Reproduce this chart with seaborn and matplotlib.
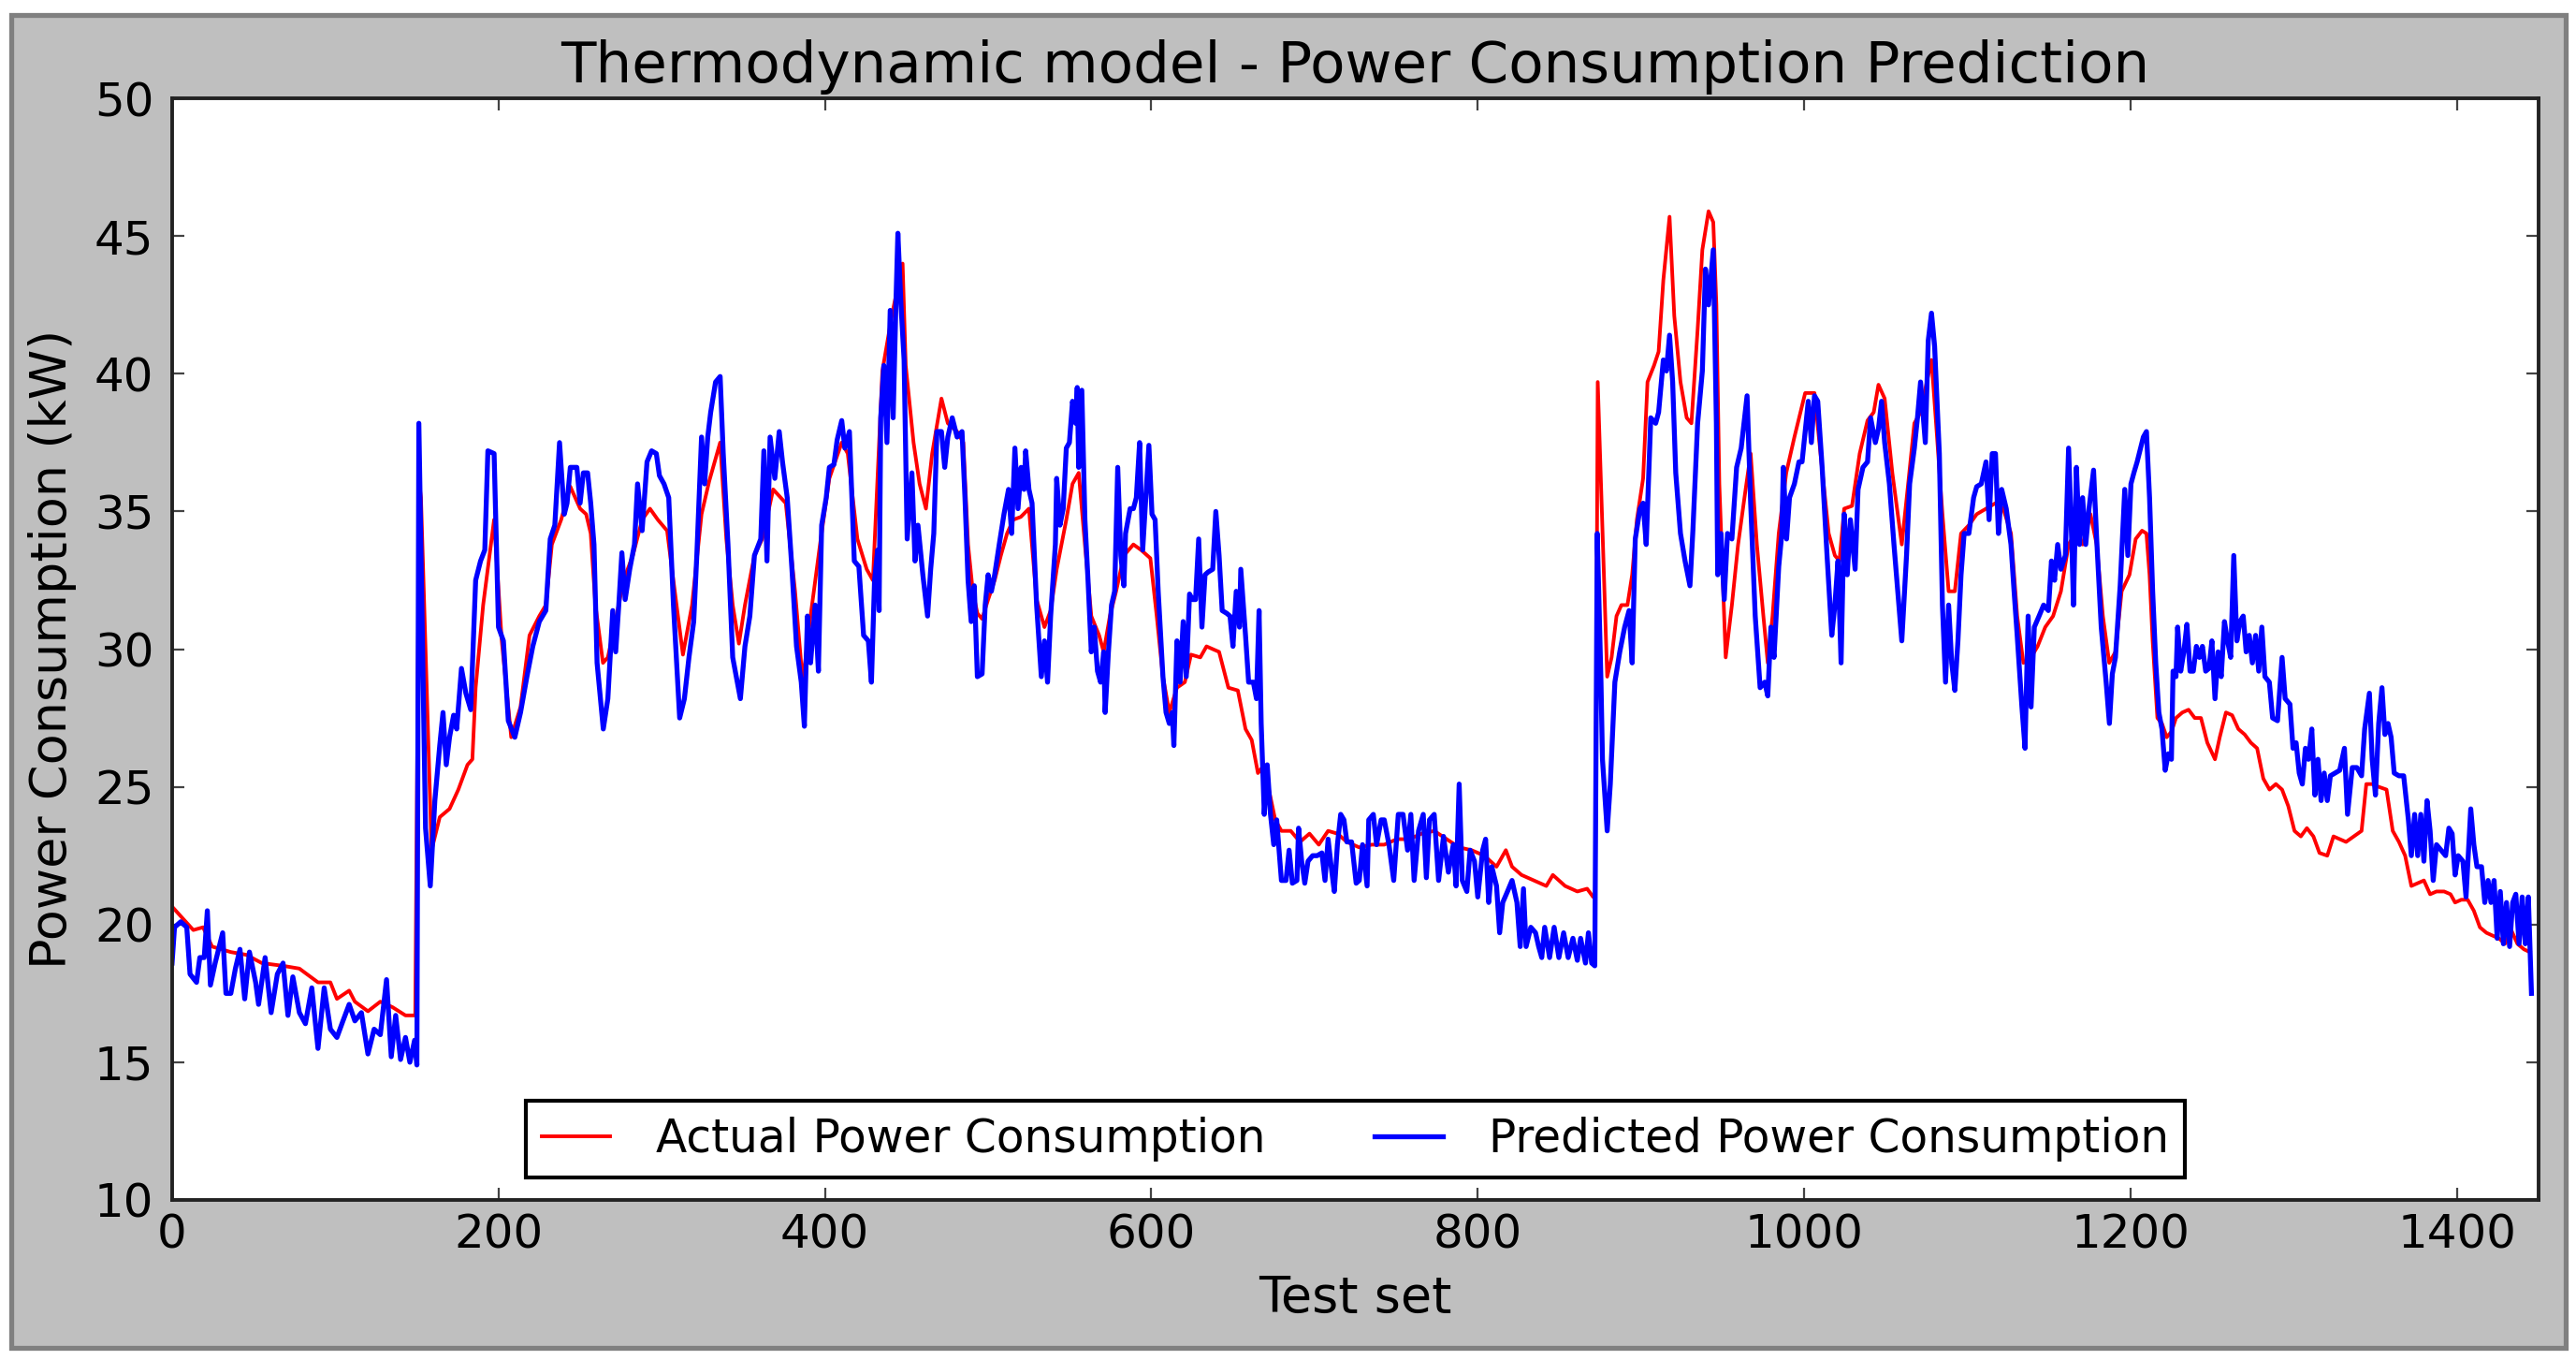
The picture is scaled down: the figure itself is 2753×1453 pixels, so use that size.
import matplotlib
matplotlib.use("Agg")
import matplotlib.pyplot as plt
from matplotlib.patches import Rectangle
import seaborn as sns
import pandas as pd

# ---------------- data ----------------
actual_x = [0, 13, 19, 24.5, 36, 45.5, 55, 68, 78, 89.4, 97, 101, 108.5, 112, 120, 127.6, 135, 143, 149,
            151.5, 152.5, 159, 164, 170, 175.4, 181, 184, 186, 190.6, 197.3, 202, 207.8, 213.5, 219, 225, 229,
            232.7, 238.4, 244, 250, 253.7, 256.5, 259.4, 264, 267, 271, 276.6, 282.3, 288, 292.8, 297.6,
            303.3, 308, 313, 318.6, 324.4, 329.1, 335.8, 339.6, 343.5, 347.3, 351, 356.8, 361.6, 368.3, 376,
            381.7, 386.4, 391.2, 397, 402.7, 410.3, 414, 419.9, 425.6, 429.4, 435.2, 441, 444.7, 447.6, 449.5,
            454.3, 458, 461.9, 465.7, 471.4, 475.3, 481, 484.8, 487.7, 490.6, 493.4, 496.3, 500, 504, 507.8,
            511.6, 515.4, 520, 525, 529.7, 534.5, 538.3, 542, 547.9, 551.7, 555.5, 559.3, 563.2, 568, 570.8,
            574.6, 578.4, 583.2, 589, 593.7, 599.4, 603.3, 607.1, 611, 615.7, 620.5, 624.3, 630, 633.8, 641.5,
            647.2, 653, 657.7, 661.5, 665.3, 669.2, 672, 675.9, 679.7, 685.4, 691.1, 696.9, 702.6, 708.3, 714,
            719.8, 727.4, 735, 742.7, 750.4, 758, 765.6, 773.3, 781, 788.6, 796.2, 804, 811.5, 817.2, 821,
            826.8, 834.4, 842, 846, 853.5, 861, 867, 870.7, 872, 873.5, 879.3, 882, 885, 888, 891.7, 894.6,
            897.5, 901.3, 904, 908, 910.8, 913.7, 917.5, 920.4, 924.2, 928, 930.9, 934.7, 937.6, 941.4, 944.3,
            946.2, 948, 951.9, 955.7, 959.5, 963.4, 967.2, 971, 975, 977.7, 980.6, 984.4, 989, 994, 997.7,
            1000.6, 1006.3, 1010, 1015, 1018.8, 1021.6, 1024.5, 1029.3, 1034, 1038.8, 1042.6, 1045.5, 1049.3,
            1054, 1059.8, 1063.7, 1067.5, 1071.3, 1075.1, 1078, 1080.8, 1084.7, 1088.5, 1092.3, 1096.1, 1100.9,
            1105.7, 1111.4, 1117.2, 1122, 1126.7, 1130.5, 1134.3, 1139, 1143, 1147.7, 1152.5, 1157.3, 1162,
            1166, 1170.6, 1175.4, 1179.2, 1183, 1186.9, 1190.7, 1194.5, 1199.3, 1203.1, 1207, 1209.7, 1211.6,
            1213.5, 1216.4, 1219.2, 1222.1, 1225, 1227.8, 1231.7, 1235.5, 1239.3, 1243.1, 1247, 1251.7, 1254.6,
            1258.4, 1262.2, 1266, 1269.9, 1273.7, 1277.5, 1281.3, 1285.1, 1289, 1292.8, 1296.6, 1300.4, 1304.3,
            1308, 1312, 1315.7, 1320.5, 1324.3, 1328.1, 1332, 1336.7, 1341.5, 1344.4, 1348, 1352, 1356.8,
            1360.6, 1364.4, 1368.2, 1372, 1375.9, 1379.7, 1383.5, 1387.4, 1392.1, 1396, 1398.8, 1402.6, 1406.5,
            1410.3, 1414, 1418, 1421.7, 1425.6, 1429.4, 1433.2, 1437, 1441, 1444.6]
actual_y = [20.65, 19.8, 19.9, 19.2, 19.0, 18.9, 18.6, 18.5, 18.4, 17.9, 17.9, 17.3, 17.6, 17.2, 16.85, 17.2,
            17.0, 16.7, 16.7, 36.0, 35.5, 22.7, 23.9, 24.2, 24.9, 25.8, 26.0, 28.6, 31.6, 34.7, 30.3, 26.8,
            27.9, 30.5, 31.2, 31.6, 33.8, 34.7, 35.9, 35.1, 34.9, 34.2, 31.6, 29.5, 29.7, 30.8, 32.5, 33.4,
            34.7, 35.1, 34.7, 34.3, 32.1, 29.8, 31.6, 34.9, 36.1, 37.5, 34.0, 31.6, 30.2, 31.6, 33.4, 34.0,
            35.8, 35.3, 32.1, 28.8, 31.2, 33.8, 36.2, 37.5, 37.1, 34.0, 32.9, 32.5, 40.1, 42.1, 43.2, 44.0,
            40.3, 37.5, 36.0, 35.1, 37.1, 39.1, 38.2, 37.9, 37.5, 33.8, 32.1, 31.3, 31.1, 31.8, 32.5, 33.4,
            34.2, 34.7, 34.8, 35.1, 31.8, 30.8, 31.4, 32.9, 34.7, 36.0, 36.4, 33.8, 31.2, 30.5, 29.9, 31.2,
            32.1, 33.4, 33.8, 33.6, 33.3, 31.2, 29.0, 27.7, 28.6, 28.8, 29.8, 29.7, 30.1, 29.9, 28.6, 28.5,
            27.1, 26.7, 25.5, 25.8, 24.9, 23.8, 23.4, 23.4, 23.0, 23.3, 22.9, 23.4, 23.3, 23.0, 22.8, 22.9,
            22.9, 23.1, 23.1, 23.3, 23.4, 23.1, 22.8, 22.7, 22.5, 22.1, 22.7, 22.1, 21.8, 21.6, 21.4, 21.8,
            21.4, 21.2, 21.3, 21.0, 21.1, 39.7, 29.0, 29.7, 31.2, 31.6, 31.6, 32.7, 34.7, 36.2, 39.7, 40.3,
            40.8, 43.4, 45.7, 42.1, 39.7, 38.4, 38.2, 41.6, 44.5, 45.9, 45.5, 42.5, 36.0, 29.7, 31.6, 33.8,
            35.5, 37.1, 33.8, 31.2, 29.5, 31.2, 34.2, 36.4, 37.7, 38.6, 39.3, 39.3, 37.1, 34.2, 33.4, 33.2,
            35.1, 35.2, 37.1, 38.3, 38.6, 39.6, 39.1, 36.4, 33.8, 36.0, 38.2, 38.6, 39.7, 40.5, 38.2, 34.9,
            32.1, 32.1, 34.2, 34.5, 34.9, 35.1, 35.3, 35.1, 34.2, 31.2, 29.5, 29.7, 30.1, 30.8, 31.2, 32.1,
            33.8, 34.2, 33.8, 34.9, 33.8, 31.2, 29.5, 29.9, 32.1, 32.7, 34.0, 34.3, 34.2, 32.7, 30.3, 27.5,
            27.3, 26.8, 27.0, 27.5, 27.7, 27.8, 27.5, 27.5, 26.6, 26.0, 26.8, 27.7, 27.6, 27.1, 26.9, 26.6,
            26.4, 25.3, 24.9, 25.1, 24.9, 24.3, 23.4, 23.2, 23.5, 23.2, 22.6, 22.5, 23.2, 23.1, 23.0, 23.2,
            23.4, 25.1, 25.1, 25.0, 24.9, 23.4, 23.0, 22.5, 21.4, 21.5, 21.6, 21.1, 21.2, 21.2, 21.1, 20.8,
            20.9, 20.9, 20.5, 19.9, 19.7, 19.6, 19.5, 19.3, 19.8, 19.3, 19.1, 19.0]

predicted_x = [0, 1.5, 5.3, 9, 11, 15, 17, 19.7, 21.6, 23.5, 26.4, 31, 33, 36, 38.8, 41.6, 44.5, 47.4, 51.2,
               53, 57, 60.7, 64.5, 68, 71, 74, 78, 81.7, 85.6, 89.4, 93.2, 97, 101, 104.7, 108.5, 112, 116, 120,
               123.8, 127.6, 131.4, 134.3, 137, 140, 143, 145.7, 148.6, 150, 151.2, 155.3, 158.2, 161, 164, 166,
               168, 170, 172.5, 174.4, 177.3, 180, 183, 186, 189, 191.6, 193.5, 197.3, 200, 203, 206, 210, 213.5,
               217.4, 221, 225, 229, 231.7, 234.5, 237.4, 240.3, 242, 244, 248, 250, 252, 254.6, 256.5, 258.5,
               260.4, 264.2, 267, 270, 271.8, 273.7, 275.6, 277.6, 280.4, 283.3, 285.2, 288, 291, 293.8, 296.7,
               298.6, 301.4, 304.3, 307.2, 311, 313.9, 316.7, 319.6, 321.5, 324.4, 326.3, 328.2, 330, 333,
               335.8, 337.7, 340.6, 343.5, 346.3, 348.2, 351, 354, 356.8, 360.7, 362.6, 364.5, 366.4, 369.3,
               372, 374, 376.9, 379.8, 382.6, 385.5, 387.4, 389.3, 391.2, 394, 396, 398, 400.8, 402.7, 405.5,
               407.5, 410.3, 412.2, 415, 418, 420.8, 423.7, 426.6, 428.5, 430.4, 432.3, 433.2, 434.2, 436.1, 438,
               440, 441.8, 443.7, 444.7, 446.6, 448.5, 450.4, 453.3, 455.2, 457, 460, 462.9, 464.8, 466.7,
               468.6, 471.4, 473.4, 475.3, 478, 481, 484, 485.8, 487.7, 489.6, 491.5, 493.4, 496.3, 498.2, 500,
               502, 504, 506.8, 509.7, 512.5, 514.4, 516.4, 518.3, 520.2, 522, 523, 525, 526.9, 529.7, 532.6,
               534.5, 536.4, 538.3, 541.2, 542, 544, 546, 547.9, 549.8, 551.7, 553.6, 554.6, 555.5, 557.4,
               559.3, 561.2, 563.2, 565, 567, 568.9, 570.8, 571.7, 573.7, 575.6, 577.5, 579.4, 581.3, 583.2,
               584.2, 587, 589, 590.8, 592.8, 594.7, 596.6, 598.5, 600.4, 602.3, 604.2, 607.1, 609, 611, 612.8,
               613.8, 615.7, 617.6, 619.5, 621.4, 623.4, 625.2, 627.1, 629, 631, 632.9, 634.8, 637.6, 639.5,
               641.5, 643.4, 646.2, 648.2, 650, 652, 654, 654.8, 657.7, 659.6, 662.5, 664.4, 666, 667.3, 669.2,
               671, 673, 675, 676.8, 679.7, 682.5, 684.4, 686.4, 689.2, 690.2, 692.1, 694, 696, 698.8, 701.6,
               704.5, 706.4, 708.3, 710.2, 712.1, 714, 716, 718, 719.8, 722.7, 725.5, 727.4, 729.4, 732.2,
               733.2, 736, 738, 740.8, 742.7, 745.6, 748.5, 751.3, 754.2, 757, 759, 761, 763.7, 766.6, 768.5,
               770.4, 773.3, 776, 779, 782, 785, 786.7, 788.6, 790.5, 793.3, 795.3, 798, 800, 803, 804.8, 806.7,
               808.6, 811.5, 813.4, 815.3, 818.2, 821, 824, 826, 828, 829.6, 832.5, 835.4, 837.3, 839.2, 841,
               844, 846.8, 849.7, 852.6, 855.4, 858.3, 861, 863, 866, 867.8, 869.8, 871.7, 873.2, 875.5, 876.4,
               879.3, 881.2, 884, 887, 890, 892.7, 894.6, 896.5, 899.4, 901.3, 903.2, 906, 909, 910.8, 913.7,
               915.6, 917.5, 919.4, 921.3, 924.2, 927, 930, 931.8, 934.7, 937.6, 939.5, 941.4, 944.3, 946.2, 947,
               949, 951, 953, 955.7, 958.6, 961.4, 965, 967.2, 970, 973, 975.8, 977.7, 979.6, 981.5, 984.4,
               986.3, 987.2, 989.2, 991, 994, 996.8, 998.7, 1000.6, 1002.5, 1004.4, 1006.3, 1008.3, 1011, 1014,
               1016.9, 1018.8, 1020.7, 1022.6, 1024.5, 1026.4, 1028.3, 1031.2, 1033, 1036, 1038.8, 1040.7,
               1043.6, 1045.5, 1047.4, 1049.3, 1052.2, 1055, 1058, 1059.8, 1062.7, 1064.6, 1067.5, 1069.4,
               1071.3, 1074.2, 1076, 1078, 1079.9, 1082.8, 1084.7, 1086.6, 1088.5, 1090.4, 1092.3, 1094.2,
               1096.1, 1098, 1100.9, 1103.8, 1105.7, 1108.5, 1111.4, 1113.3, 1115.2, 1117.2, 1119, 1121, 1123.8,
               1126.7, 1128.6, 1130.5, 1133.4, 1135.3, 1137.2, 1139, 1141, 1143.9, 1146.7, 1149.6, 1151.5,
               1153.4, 1155.3, 1157.3, 1160, 1162, 1164, 1165, 1166.8, 1168.7, 1170.6, 1172.5, 1174.5, 1177.3,
               1179.2, 1182, 1185, 1187, 1188.8, 1190.7, 1193.6, 1196.4, 1198.3, 1200.2, 1202, 1204, 1207.8,
               1209.7, 1211.6, 1213.5, 1215.4, 1217.3, 1219.2, 1221.2, 1223.1, 1225, 1226, 1227.8, 1228.8,
               1230.7, 1232.6, 1234.5, 1236.4, 1238.4, 1240.3, 1242.2, 1244, 1246, 1248, 1249.8, 1251.7, 1253.6,
               1255.5, 1257.5, 1259.4, 1261.3, 1263.2, 1265.1, 1267, 1269, 1270.8, 1272.7, 1274.6, 1276.6,
               1278.5, 1280.4, 1282.3, 1285, 1287, 1290, 1292.8, 1294.7, 1297.6, 1299.5, 1301.4, 1303.3, 1305.2,
               1307.1, 1309, 1311, 1312.9, 1314.8, 1316.7, 1318.6, 1320.5, 1322.4, 1325.3, 1328.1, 1331, 1332.9,
               1335.8, 1338.6, 1341.5, 1343.4, 1346.3, 1348, 1350, 1352, 1354, 1355.8, 1357.7, 1359.6, 1361.5,
               1364.4, 1367.3, 1370.2, 1372, 1374, 1375.9, 1377.8, 1379.7, 1381.6, 1383.5, 1385.4, 1387.4,
               1390.2, 1393, 1395, 1397, 1398.8, 1400.7, 1403.6, 1405.5, 1408.4, 1410.3, 1412.2, 1415, 1417,
               1419, 1420.8, 1422.7, 1424.6, 1426.5, 1428.4, 1430.3, 1432.2, 1434.1, 1436, 1438, 1439.9, 1441.8,
               1443.7, 1445.6]
predicted_y = [18.6, 19.9, 20.1, 19.9, 18.2, 17.9, 18.8, 18.8, 20.5, 17.8, 18.6, 19.7, 17.5, 17.5, 18.4, 19.1,
               17.3, 19.0, 17.9, 17.1, 18.8, 16.8, 18.2, 18.6, 16.7, 18.1, 16.8, 16.4, 17.7, 15.5, 17.7, 16.2,
               15.9, 16.5, 17.1, 16.5, 16.8, 15.3, 16.2, 16.0, 18.0, 15.2, 16.7, 15.1, 15.9, 15.0, 15.8, 14.9,
               38.2, 23.5, 21.4, 24.5, 26.5, 27.7, 25.8, 26.8, 27.6, 27.1, 29.3, 28.4, 27.8, 32.5, 33.2, 33.6,
               37.2, 37.1, 30.8, 30.3, 27.4, 26.8, 27.7, 29.0, 30.1, 31.0, 31.4, 34.0, 34.5, 37.5, 34.9, 35.3,
               36.6, 36.6, 35.3, 36.4, 36.4, 35.3, 33.8, 29.5, 27.1, 28.2, 31.4, 29.9, 31.6, 33.5, 31.8, 32.9,
               33.8, 36.0, 34.3, 36.8, 37.2, 37.1, 36.3, 36.0, 35.5, 31.6, 27.5, 28.2, 29.7, 31.0, 33.4, 37.7,
               36.0, 37.7, 38.6, 39.7, 39.9, 37.1, 33.8, 29.7, 28.8, 28.2, 30.1, 31.2, 33.4, 34.0, 37.2, 33.2,
               37.7, 36.2, 37.9, 36.8, 35.5, 32.9, 30.1, 28.8, 27.2, 31.2, 29.5, 31.6, 29.2, 34.5, 35.5, 36.6,
               36.7, 37.6, 38.3, 37.3, 37.9, 33.2, 33.0, 30.5, 30.3, 28.8, 32.5, 33.6, 31.4, 38.4, 40.3, 37.5,
               42.3, 38.4, 43.0, 45.1, 42.5, 40.5, 34.0, 36.4, 33.2, 34.5, 32.7, 31.2, 32.9, 34.2, 37.9, 37.9,
               36.6, 37.7, 38.4, 37.7, 37.9, 35.5, 32.5, 31.0, 32.3, 29.0, 29.1, 31.6, 32.7, 32.1, 32.7, 33.8,
               34.9, 35.8, 34.2, 37.3, 35.1, 36.6, 35.8, 37.2, 35.8, 35.3, 31.6, 29.0, 30.3, 28.8, 31.2, 33.8,
               36.2, 34.5, 35.1, 37.3, 37.5, 39.0, 38.2, 39.5, 36.6, 39.4, 34.7, 32.5, 29.9, 30.8, 29.2, 28.8,
               29.9, 27.7, 29.9, 31.6, 32.1, 36.6, 33.4, 32.3, 34.2, 35.1, 35.1, 35.5, 37.5, 33.6, 35.5, 37.4,
               34.9, 34.7, 32.1, 29.0, 27.7, 27.3, 27.7, 26.5, 30.3, 28.8, 31.0, 29.0, 32.0, 31.8, 31.8, 34.0,
               30.8, 32.7, 32.8, 32.9, 35.0, 33.4, 31.4, 31.3, 31.2, 30.1, 32.1, 30.8, 32.9, 30.5, 28.8, 28.8,
               28.2, 31.4, 27.3, 24.0, 25.8, 24.0, 22.9, 23.8, 21.6, 21.6, 22.7, 21.5, 21.6, 23.5, 22.3, 21.5,
               22.3, 22.5, 22.5, 22.6, 21.6, 23.1, 22.1, 21.2, 22.9, 24.0, 23.8, 23.0, 23.0, 21.5, 21.6, 22.9,
               21.4, 23.8, 24.0, 22.9, 23.8, 23.8, 22.9, 21.6, 24.0, 24.0, 22.7, 24.0, 21.6, 23.4, 24.0, 21.7,
               23.8, 24.0, 21.6, 23.2, 21.9, 22.9, 21.4, 25.1, 21.6, 21.2, 22.7, 22.3, 21.0, 22.7, 23.1, 20.8,
               22.1, 21.4, 19.7, 20.8, 21.2, 21.6, 20.8, 19.2, 21.3, 19.2, 19.9, 19.7, 19.2, 18.8, 19.9, 18.8,
               19.9, 18.8, 19.7, 18.8, 19.5, 18.7, 19.5, 18.6, 19.7, 18.6, 18.5, 34.2, 28.8, 26.0, 23.4, 25.1,
               28.8, 29.9, 30.8, 31.4, 29.5, 34.0, 35.1, 35.3, 33.8, 38.4, 38.2, 38.6, 40.5, 40.1, 41.4, 39.7,
               36.4, 34.2, 33.2, 32.3, 34.3, 38.2, 40.1, 43.8, 42.5, 44.5, 38.2, 32.7, 34.2, 31.8, 34.2, 34.0,
               36.6, 37.3, 39.2, 35.3, 31.2, 28.6, 28.8, 28.3, 30.8, 29.7, 33.0, 34.2, 36.6, 34.0, 35.5, 36.0,
               36.8, 36.8, 37.9, 39.0, 37.5, 39.2, 39.0, 36.6, 33.4, 30.5, 31.6, 33.2, 29.5, 34.9, 32.7, 34.7,
               32.9, 35.8, 36.6, 36.8, 38.4, 37.5, 38.0, 39.0, 37.5, 36.0, 33.8, 31.6, 30.3, 33.4, 36.0, 37.3,
               38.4, 39.7, 37.5, 41.2, 42.2, 41.0, 37.1, 31.6, 28.8, 31.6, 29.5, 28.5, 30.3, 32.7, 34.2, 34.2,
               35.5, 35.9, 36.0, 36.8, 34.7, 37.1, 37.1, 34.2, 35.8, 35.1, 33.8, 32.1, 30.5, 27.9, 26.4, 31.2,
               27.9, 30.8, 31.2, 31.6, 31.4, 33.2, 32.5, 33.8, 32.9, 33.4, 37.3, 33.8, 31.6, 36.6, 33.8, 35.5,
               33.8, 35.1, 36.5, 34.0, 30.8, 28.8, 27.3, 29.1, 29.7, 32.3, 35.8, 33.4, 36.0, 36.4, 36.8, 37.7,
               37.9, 35.5, 32.1, 29.5, 27.7, 27.1, 25.6, 26.2, 26.0, 29.2, 29.0, 30.8, 29.2, 29.9, 30.9, 29.2,
               29.2, 30.1, 29.7, 30.1, 29.2, 29.3, 30.3, 28.2, 29.9, 29.0, 31.0, 30.3, 29.7, 33.4, 30.3, 31.0,
               31.2, 29.9, 30.5, 29.5, 30.5, 29.2, 30.8, 29.0, 28.8, 27.5, 27.4, 29.7, 28.2, 28.0, 26.4, 26.6,
               25.5, 25.1, 26.4, 26.0, 27.1, 24.7, 26.0, 24.5, 25.5, 24.5, 25.4, 25.5, 25.6, 26.4, 24.0, 25.7,
               25.7, 25.4, 27.1, 28.4, 26.0, 24.7, 27.3, 28.6, 26.9, 27.3, 26.8, 25.5, 25.4, 25.4, 23.8, 22.5,
               24.0, 22.5, 24.0, 22.3, 24.5, 23.4, 21.6, 22.9, 22.7, 22.5, 23.5, 23.3, 21.8, 22.5, 22.3, 21.0,
               24.2, 22.9, 22.1, 22.1, 20.8, 21.6, 20.8, 21.6, 19.5, 21.2, 19.3, 20.8, 19.2, 20.8, 21.1, 19.3,
               21.0, 19.3, 21.0, 17.5]

x_ticks = [0, 200, 400, 600, 800, 1000, 1200, 1400]
y_ticks = [10, 15, 20, 25, 30, 35, 40, 45, 50]
title = "Thermodynamic model - Power Consumption Prediction"
x_label = "Test set"
y_label = "Power Consumption (kW)"
labels = ["Actual Power Consumption", "Predicted Power Consumption"]

# ---------------- style ----------------
plt.rcParams['font.family'] = ['DejaVu Sans']
plt.rcParams['xtick.direction'] = 'in'
plt.rcParams['ytick.direction'] = 'in'
plt.rcParams['xtick.top'] = True
plt.rcParams['ytick.right'] = True

TICK_FS = 18
LABEL_FS = 19.5
LEG_FS = 17.5
fig = plt.figure(figsize=(13.765, 7.265), dpi=200, facecolor='white')

# grey figure panel with darker border (drawn behind the axes)
fig.patches.append(Rectangle((0.00436, 0.00895), 0.99164, 0.98004, transform=fig.transFigure,
                             facecolor='#bfbfbf', edgecolor='#808080', linewidth=1.9, zorder=-1))

ax = fig.add_axes([0.0668, 0.1177, 0.9187, 0.8100])
ax.set_facecolor('white')

df_a = pd.DataFrame({'x': actual_x, 'y': actual_y})
df_p = pd.DataFrame({'x': predicted_x, 'y': predicted_y})
sns.lineplot(data=df_a, x='x', y='y', ax=ax, color='#ff0000', linewidth=1.4,
             estimator=None, sort=False, label=labels[0])
sns.lineplot(data=df_p, x='x', y='y', ax=ax, color='#0000ff', linewidth=1.9,
             estimator=None, sort=False, label=labels[1])

ax.set_xlim(0, 1450)
ax.set_ylim(10, 50)
ax.set_xticks(x_ticks)
ax.set_yticks(y_ticks)
ax.tick_params(axis='both', which='major', length=4.8, width=0.8, labelsize=TICK_FS,
               color='#444444', labelcolor='black')
ax.tick_params(axis='x', pad=5)
ax.tick_params(axis='y', pad=7)
for s in ax.spines.values():
    s.set_linewidth(1.4)
    s.set_color('#222222')

ax.set_title(title, fontsize=22, pad=6)
ax.set_xlabel(x_label, fontsize=LABEL_FS, labelpad=6)
ax.set_ylabel(y_label, fontsize=LABEL_FS, labelpad=7)

leg = ax.legend(loc='lower center', ncol=2, fontsize=LEG_FS, frameon=True, fancybox=False,
                framealpha=1.0, edgecolor='black', handlelength=1.5, handletextpad=1.0,
                columnspacing=2.4, borderpad=0.35, borderaxespad=0.5)
leg.get_frame().set_linewidth(1.5)

fig.savefig('out.png', dpi=200, facecolor='white')
